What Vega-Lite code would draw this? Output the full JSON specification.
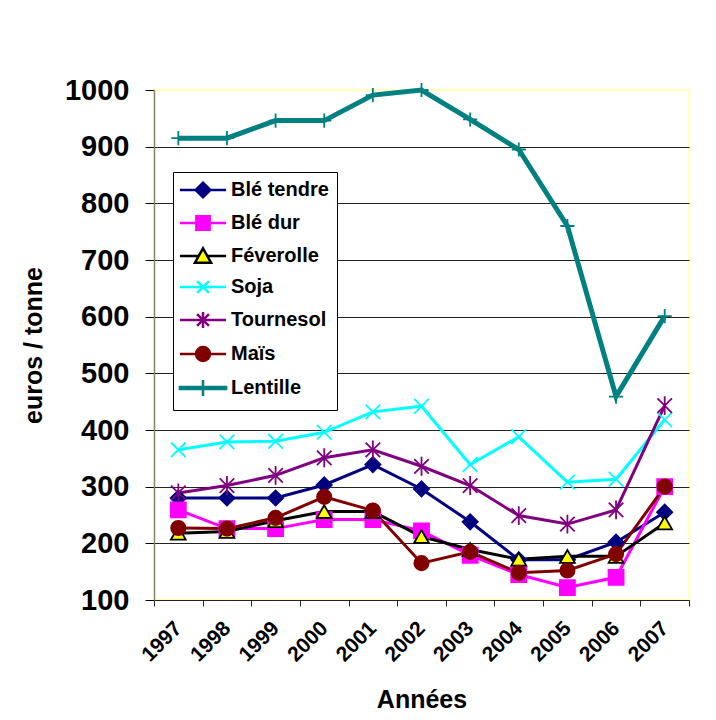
{
  "$schema": "https://vega.github.io/schema/vega-lite/v6.json",
  "width": 535,
  "height": 510,
  "autosize": "none",
  "padding": {"left": 154, "top": 90, "right": 27, "bottom": 120},
  "background": "white",
  "config": {
    "font": "Liberation Sans",
    "view": {"stroke": "#FFFFC0", "strokeWidth": 2.5}
  },
  "data": {
    "values": [
      {"year": "1997", "series": "Blé tendre", "value": 280},
      {"year": "1998", "series": "Blé tendre", "value": 280},
      {"year": "1999", "series": "Blé tendre", "value": 280},
      {"year": "2000", "series": "Blé tendre", "value": 303},
      {"year": "2001", "series": "Blé tendre", "value": 339},
      {"year": "2002", "series": "Blé tendre", "value": 296},
      {"year": "2003", "series": "Blé tendre", "value": 238},
      {"year": "2004", "series": "Blé tendre", "value": 171},
      {"year": "2005", "series": "Blé tendre", "value": 171},
      {"year": "2006", "series": "Blé tendre", "value": 202},
      {"year": "2007", "series": "Blé tendre", "value": 255},
      {"year": "1997", "series": "Blé dur", "value": 259},
      {"year": "1998", "series": "Blé dur", "value": 226},
      {"year": "1999", "series": "Blé dur", "value": 226},
      {"year": "2000", "series": "Blé dur", "value": 242},
      {"year": "2001", "series": "Blé dur", "value": 242},
      {"year": "2002", "series": "Blé dur", "value": 222},
      {"year": "2003", "series": "Blé dur", "value": 179},
      {"year": "2004", "series": "Blé dur", "value": 145},
      {"year": "2005", "series": "Blé dur", "value": 122},
      {"year": "2006", "series": "Blé dur", "value": 140},
      {"year": "2007", "series": "Blé dur", "value": 300},
      {"year": "1997", "series": "Féverolle", "value": 218},
      {"year": "1998", "series": "Féverolle", "value": 221},
      {"year": "1999", "series": "Féverolle", "value": 240},
      {"year": "2000", "series": "Féverolle", "value": 256},
      {"year": "2001", "series": "Féverolle", "value": 256},
      {"year": "2002", "series": "Féverolle", "value": 212},
      {"year": "2003", "series": "Féverolle", "value": 189},
      {"year": "2004", "series": "Féverolle", "value": 172},
      {"year": "2005", "series": "Féverolle", "value": 177},
      {"year": "2006", "series": "Féverolle", "value": 177},
      {"year": "2007", "series": "Féverolle", "value": 236},
      {"year": "1997", "series": "Soja", "value": 365},
      {"year": "1998", "series": "Soja", "value": 379},
      {"year": "1999", "series": "Soja", "value": 380},
      {"year": "2000", "series": "Soja", "value": 396},
      {"year": "2001", "series": "Soja", "value": 432},
      {"year": "2002", "series": "Soja", "value": 442},
      {"year": "2003", "series": "Soja", "value": 339},
      {"year": "2004", "series": "Soja", "value": 388},
      {"year": "2005", "series": "Soja", "value": 308},
      {"year": "2006", "series": "Soja", "value": 313},
      {"year": "2007", "series": "Soja", "value": 418},
      {"year": "1997", "series": "Tournesol", "value": 289},
      {"year": "1998", "series": "Tournesol", "value": 302},
      {"year": "1999", "series": "Tournesol", "value": 320},
      {"year": "2000", "series": "Tournesol", "value": 351},
      {"year": "2001", "series": "Tournesol", "value": 365},
      {"year": "2002", "series": "Tournesol", "value": 336},
      {"year": "2003", "series": "Tournesol", "value": 302},
      {"year": "2004", "series": "Tournesol", "value": 249},
      {"year": "2005", "series": "Tournesol", "value": 234},
      {"year": "2006", "series": "Tournesol", "value": 259},
      {"year": "2007", "series": "Tournesol", "value": 443},
      {"year": "1997", "series": "Maïs", "value": 227},
      {"year": "1998", "series": "Maïs", "value": 226},
      {"year": "1999", "series": "Maïs", "value": 245},
      {"year": "2000", "series": "Maïs", "value": 282},
      {"year": "2001", "series": "Maïs", "value": 258},
      {"year": "2002", "series": "Maïs", "value": 165},
      {"year": "2003", "series": "Maïs", "value": 185},
      {"year": "2004", "series": "Maïs", "value": 148},
      {"year": "2005", "series": "Maïs", "value": 152},
      {"year": "2006", "series": "Maïs", "value": 181},
      {"year": "2007", "series": "Maïs", "value": 300},
      {"year": "1997", "series": "Lentille", "value": 915},
      {"year": "1998", "series": "Lentille", "value": 915},
      {"year": "1999", "series": "Lentille", "value": 946},
      {"year": "2000", "series": "Lentille", "value": 946},
      {"year": "2001", "series": "Lentille", "value": 991},
      {"year": "2002", "series": "Lentille", "value": 1000},
      {"year": "2003", "series": "Lentille", "value": 948},
      {"year": "2004", "series": "Lentille", "value": 895},
      {"year": "2005", "series": "Lentille", "value": 760},
      {"year": "2006", "series": "Lentille", "value": 459},
      {"year": "2007", "series": "Lentille", "value": 601}
    ]
  },
  "encoding": {
    "x": {
      "field": "year",
      "type": "ordinal",
      "scale": {"type": "band", "paddingInner": 0, "paddingOuter": 0},
      "axis": {
        "title": "Années",
        "titleFont": "Liberation Sans",
        "titleFontSize": 25,
        "titleFontWeight": "bold",
        "titleColor": "black",
        "titlePadding": 22,
        "labelAngle": -45,
        "labelAlign": "right",
        "labelBaseline": "middle",
        "labelFont": "Liberation Sans",
        "labelFontSize": 21,
        "labelFontWeight": "bold",
        "labelColor": "black",
        "labelPadding": 19,
        "labelOverlap": false,
        "tickBand": "extent",
        "ticks": true,
        "tickSize": 6,
        "tickColor": "#222222",
        "domainColor": "#222222",
        "grid": false
      }
    },
    "y": {
      "field": "value",
      "type": "quantitative",
      "scale": {"domain": [100, 1000], "nice": false, "zero": false},
      "axis": {
        "title": "euros / tonne",
        "titleFont": "Liberation Sans",
        "titleFontSize": 25,
        "titleFontWeight": "bold",
        "titleColor": "black",
        "titlePadding": 18,
        "values": [100, 200, 300, 400, 500, 600, 700, 800, 900, 1000],
        "format": "d",
        "labelFont": "Liberation Sans",
        "labelFontSize": 29,
        "labelFontWeight": "bold",
        "labelColor": "black",
        "labelPadding": 16,
        "tickSize": 9,
        "tickColor": "#000000",
        "domainColor": "#86866e",
        "domainWidth": 1.5,
        "grid": true,
        "gridColor": {"condition": {"test": "datum.value === 1000", "value": "transparent"}, "value": "#222222"},
        "gridOpacity": 1
      }
    }
  },
  "layer": [
    {
      "mark": {"type": "line"},
      "encoding": {
        "color": {
          "field": "series",
          "type": "nominal",
          "scale": {
            "domain": ["Blé tendre", "Blé dur", "Féverolle", "Soja", "Tournesol", "Maïs", "Lentille"],
            "range": ["#000080", "#FF00FF", "#000000", "#00FFFF", "#800080", "#800000", "#008080"]
          },
          "legend": null
        },
        "strokeWidth": {"condition": {"test": "datum.series === 'Lentille'", "value": 5}, "value": 3}
      }
    },
    {
      "mark": {"type": "point", "filled": true, "opacity": 1, "strokeWidth": 1.8},
      "encoding": {
        "shape": {
          "field": "series",
          "type": "nominal",
          "scale": {
            "domain": ["Blé tendre", "Blé dur", "Féverolle", "Soja", "Tournesol", "Maïs", "Lentille"],
            "range": ["diamond", "square", "triangle-up", "M-1,-1L1,1M-1,1L1,-1", "M-1,-1L1,1M-1,1L1,-1M0,-1.3L0,1.3", "circle", "M-1,0L1,0M0,-1L0,1"]
          },
          "legend": null
        },
        "fill": {
          "field": "series",
          "type": "nominal",
          "scale": {
            "domain": ["Blé tendre", "Blé dur", "Féverolle", "Soja", "Tournesol", "Maïs", "Lentille"],
            "range": ["#000080", "#FF00FF", "#FFFF00", "transparent", "transparent", "#800000", "transparent"]
          },
          "legend": null
        },
        "stroke": {
          "field": "series",
          "type": "nominal",
          "scale": {
            "domain": ["Blé tendre", "Blé dur", "Féverolle", "Soja", "Tournesol", "Maïs", "Lentille"],
            "range": ["#000080", "#FF00FF", "#000000", "#00FFFF", "#800080", "#800000", "#008080"]
          },
          "legend": null
        },
        "size": {
          "field": "series",
          "type": "nominal",
          "scale": {
            "domain": ["Blé tendre", "Blé dur", "Féverolle", "Soja", "Tournesol", "Maïs", "Lentille"],
            "range": [230, 200, 256, 256, 256, 200, 400]
          },
          "legend": null
        }
      }
    },
    {
      "transform": [{"filter": "false"}],
      "mark": {"type": "point", "filled": true, "opacity": 1, "strokeWidth": 2.5, "size": 196},
      "encoding": {
        "shape": {
          "field": "series",
          "type": "nominal",
          "scale": {
            "domain": ["Blé tendre", "Blé dur", "Féverolle", "Soja", "Tournesol", "Maïs", "Lentille"],
            "range": [
              "M-3.3,0L3.3,0M0,-1.05L1.05,0L0,1.05L-1.05,0Z",
              "M-3.3,0L3.3,0M-0.95,-0.95L0.95,-0.95L0.95,0.95L-0.95,0.95Z",
              "M-3.3,0L-0.62,0M0.62,0L3.3,0M0,-1.1L1.15,0.95L-1.15,0.95Z",
              "M-3.3,0L3.3,0M-0.85,-0.85L0.85,0.85M-0.85,0.85L0.85,-0.85",
              "M-3.3,0L3.3,0M-0.85,-0.85L0.85,0.85M-0.85,0.85L0.85,-0.85M0,-1.15L0,1.15",
              "M-3.3,0L3.3,0M1,0A1,1,0,1,1,-1,0A1,1,0,1,1,1,0Z",
              "M-3.3,-0.15L3.3,-0.15L3.3,0.15L-3.3,0.15ZM0,-1.15L0,1.15"
            ]
          },
          "legend": {
            "title": null, "orient": "none", "legendX": 19, "legendY": 82,
            "padding": 8, "rowPadding": 8, "strokeColor": "#000000", "fillColor": "#FFFFFF",
            "labelFont": "Liberation Sans", "labelFontSize": 20, "labelFontWeight": "bold", "labelColor": "#000000",
            "labelLimit": 300, "symbolSize": 196, "symbolStrokeWidth": 2.5, "symbolOffset": 12, "labelOffset": 18
          }
        },
        "fill": {
          "field": "series",
          "type": "nominal",
          "scale": {
            "domain": ["Blé tendre", "Blé dur", "Féverolle", "Soja", "Tournesol", "Maïs", "Lentille"],
            "range": ["#000080", "#FF00FF", "#FFFF00", "#00FFFF", "#800080", "#800000", "#008080"]
          },
          "legend": {
            "title": null, "orient": "none", "legendX": 19, "legendY": 82,
            "padding": 8, "rowPadding": 8, "strokeColor": "#000000", "fillColor": "#FFFFFF",
            "labelFont": "Liberation Sans", "labelFontSize": 20, "labelFontWeight": "bold", "labelColor": "#000000",
            "labelLimit": 300, "symbolSize": 196, "symbolStrokeWidth": 2.5, "symbolOffset": 12, "labelOffset": 18
          }
        },
        "stroke": {
          "field": "series",
          "type": "nominal",
          "scale": {
            "domain": ["Blé tendre", "Blé dur", "Féverolle", "Soja", "Tournesol", "Maïs", "Lentille"],
            "range": ["#000080", "#FF00FF", "#000000", "#00FFFF", "#800080", "#800000", "#008080"]
          },
          "legend": {
            "title": null, "orient": "none", "legendX": 19, "legendY": 82,
            "padding": 8, "rowPadding": 8, "strokeColor": "#000000", "fillColor": "#FFFFFF",
            "labelFont": "Liberation Sans", "labelFontSize": 20, "labelFontWeight": "bold", "labelColor": "#000000",
            "labelLimit": 300, "symbolSize": 196, "symbolStrokeWidth": 2.5, "symbolOffset": 12, "labelOffset": 18
          }
        }
      }
    }
  ],
  "resolve": {"scale": {"shape": "independent", "fill": "independent", "stroke": "independent", "size": "independent"}}
}
